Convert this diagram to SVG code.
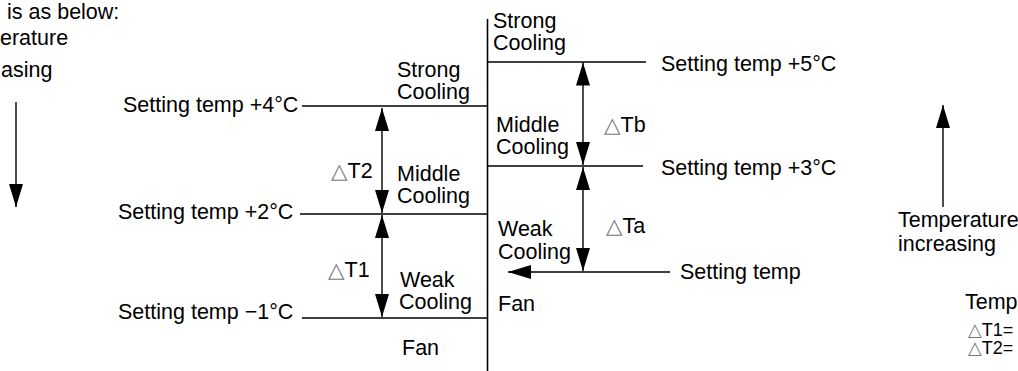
<svg xmlns="http://www.w3.org/2000/svg" width="1018" height="371" viewBox="0 0 1018 371">
<style>
text{font-family:"Liberation Sans",Arial,"DejaVu Sans",sans-serif;font-size:21.5px;fill:#000}
.sm{font-size:18px}
.d{fill:#777}
.ln{stroke:#000;stroke-width:1.6;fill:none}
.ar{stroke:#000;stroke-width:1.4;fill:none}
</style>
<defs>
<marker id="ah" viewBox="0 0 23 14" refX="23" refY="7" markerWidth="23" markerHeight="14" markerUnits="userSpaceOnUse" orient="auto-start-reverse">
<path d="M0,0 L23,7 L0,14 Z" fill="#000"/>
</marker>
</defs>
<rect width="1018" height="371" fill="#fff"/>

<g id="intro">
<text x="7" y="19">is as below:</text>
<text x="0" y="45">erature</text>
<text x="1" y="77">asing</text>
</g>

<g id="axis"><line class="ln" x1="487.5" y1="19" x2="487.5" y2="371"/></g>

<g id="level-plus4"><line class="ln" x1="302" y1="106" x2="487.5" y2="106"/><text x="123" y="112">Setting temp +4°C</text></g>
<g id="level-plus2"><line class="ln" x1="300" y1="214" x2="487.5" y2="214"/><text x="118" y="219">Setting temp +2°C</text></g>
<g id="level-minus1"><line class="ln" x1="302" y1="318" x2="487.5" y2="318"/><text x="118" y="319">Setting temp −1°C</text></g>
<g id="level-plus5"><line class="ln" x1="487.5" y1="62" x2="646" y2="62"/><text x="661" y="71">Setting temp +5°C</text></g>
<g id="level-plus3"><line class="ln" x1="487.5" y1="166" x2="643" y2="166"/><text x="661" y="175">Setting temp +3°C</text></g>
<g id="level-set"><text x="680" y="279">Setting temp</text></g>

<g id="left-strong"><text x="397" y="77">Strong</text><text x="397" y="99">Cooling</text></g>
<g id="left-middle"><text x="397" y="181">Middle</text><text x="397" y="203">Cooling</text></g>
<g id="left-weak"><text x="400" y="287">Weak</text><text x="399" y="309">Cooling</text></g>
<g id="left-fan"><text x="402" y="355">Fan</text></g>
<g id="right-strong"><text x="493" y="28">Strong</text><text x="493" y="50">Cooling</text></g>
<g id="right-middle"><text x="496" y="132">Middle</text><text x="496" y="154">Cooling</text></g>
<g id="right-weak"><text x="498" y="236">Weak</text><text x="498" y="259">Cooling</text></g>
<g id="right-fan"><text x="498" y="311">Fan</text></g>

<g id="delta-labels">
<text x="331" y="178"><tspan class="d">△</tspan>T2</text>
<text x="328" y="277"><tspan class="d">△</tspan>T1</text>
<text x="604" y="132"><tspan class="d">△</tspan>Tb</text>
<text x="606" y="233"><tspan class="d">△</tspan>Ta</text>
</g>

<g id="temp-increasing"><text x="898" y="227">Temperature</text><text x="898" y="251">increasing</text></g>

<g id="legend">
<text x="965" y="309">Temp</text>
<text class="sm" x="968" y="336"><tspan class="d">△</tspan>T1=</text>
<text class="sm" x="968" y="354"><tspan class="d">△</tspan>T2=</text>
</g>

<g id="connectors">
<line class="ar" x1="16" y1="102" x2="16" y2="207" marker-end="url(#ah)"/>
<line class="ar" x1="943" y1="207" x2="943" y2="105" marker-end="url(#ah)"/>
<line class="ar" x1="382" y1="108" x2="382" y2="213" marker-start="url(#ah)" marker-end="url(#ah)"/>
<line class="ar" x1="382" y1="215" x2="382" y2="317" marker-start="url(#ah)" marker-end="url(#ah)"/>
<line class="ar" x1="583" y1="62.5" x2="583" y2="165" marker-start="url(#ah)" marker-end="url(#ah)"/>
<line class="ar" x1="583" y1="167" x2="583" y2="271" marker-start="url(#ah)" marker-end="url(#ah)"/>
<line class="ln" x1="670" y1="272" x2="508" y2="272" marker-end="url(#ah)"/>
</g>
</svg>
